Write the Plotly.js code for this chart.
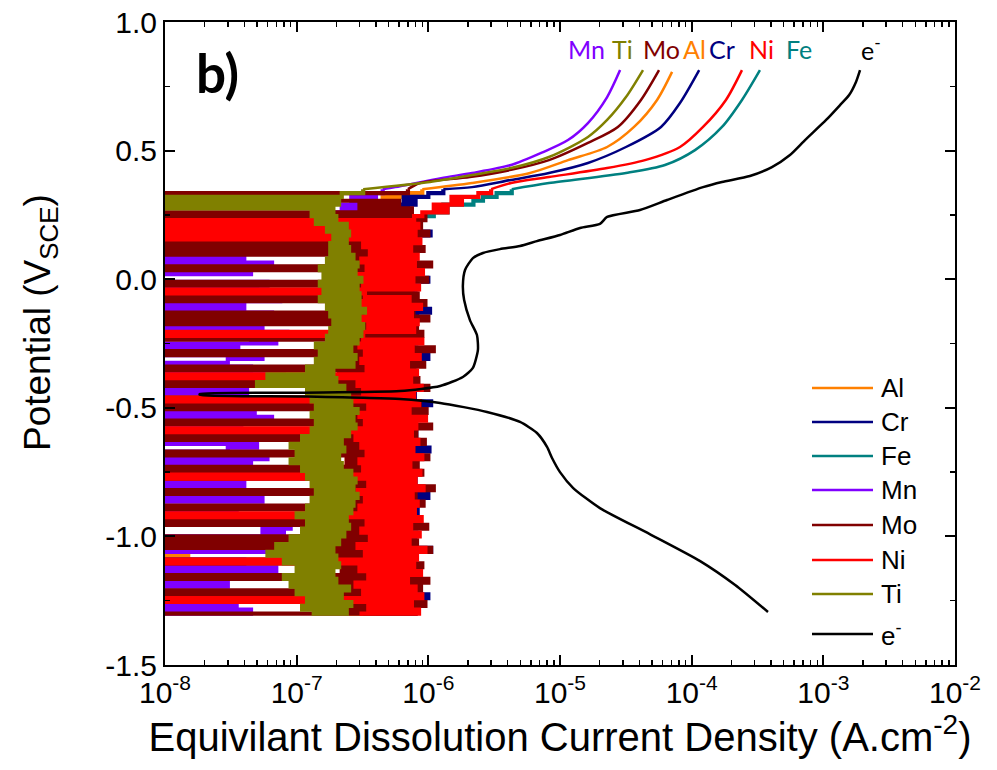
<!DOCTYPE html>
<html>
<head>
<meta charset="utf-8">
<script src="https://cdn.plot.ly/plotly-3.0.1.min.js"></script>
<style>html,body{margin:0;padding:0;background:#fff;}#chart{width:997px;height:770px;}</style>
</head>
<body>
<div id="chart"></div>
<script>
// Potential sampling (V vs SCE) of the noisy, low-current part of the scan
const potGrid = [
-1.300,-1.285,-1.270,-1.255,-1.240,-1.225,-1.210,-1.195,-1.180,-1.165,
-1.150,-1.135,-1.120,-1.105,-1.090,-1.075,-1.060,-1.045,-1.030,-1.015,
-1.000,-0.985,-0.970,-0.955,-0.940,-0.925,-0.910,-0.895,-0.880,-0.865,
-0.850,-0.835,-0.820,-0.805,-0.790,-0.775,-0.760,-0.745,-0.730,-0.715,
-0.700,-0.685,-0.670,-0.655,-0.640,-0.625,-0.610,-0.595,-0.580,-0.565,
-0.550,-0.535,-0.520,-0.505,-0.490,-0.475,-0.460,-0.445,-0.430,-0.415,
-0.400,-0.385,-0.370,-0.355,-0.340,-0.325,-0.310,-0.295,-0.280,-0.265,
-0.250,-0.235,-0.220,-0.205,-0.190,-0.175,-0.160,-0.145,-0.130,-0.115,
-0.100,-0.085,-0.070,-0.055,-0.040,-0.025,-0.010,0.005,0.020,0.035,
0.050,0.065,0.080,0.095,0.110,0.125,0.140,0.155,0.170,0.185,
0.200,0.215,0.230,0.245,0.260,0.275,0.290,0.305,0.320,0.335,
0.350];

// Equivalent dissolution current density (A/cm2) on potGrid
const alNoise = [
2.5e-7,5.0e-7,2.2e-7,5.5e-7,2.6e-7,4.8e-7,2.4e-7,5.2e-7,2.3e-7,4.6e-7,
2.7e-7,5.4e-7,2.5e-7,4.9e-7,2.2e-7,5e-9,1.5e-8,5.1e-7,2.4e-7,4.7e-7,
2.6e-7,5.3e-7,2.3e-7,4.8e-7,2.5e-7,5.6e-7,2.4e-7,5.0e-7,2.7e-7,4.6e-7,
2.3e-7,5.2e-7,6.0e-8,4.9e-7,2.5e-7,5.4e-7,2.6e-7,4.7e-7,2.2e-7,5.1e-7,
2.4e-7,4.8e-7,2.6e-7,5.5e-7,2.3e-7,5.0e-7,2.5e-7,4.6e-7,2.7e-7,5.3e-7,
2.2e-7,4.9e-7,2.4e-7,5.2e-7,2.6e-7,4.7e-7,2.3e-7,5.4e-7,2.5e-7,5.0e-7,
2.6e-7,4.8e-7,2.4e-7,5.1e-7,2.2e-7,5.5e-7,2.5e-7,4.9e-7,2.7e-7,5.2e-7,
2.3e-7,4.6e-7,2.6e-7,5.3e-7,2.4e-7,5.0e-7,2.2e-7,4.8e-7,2.5e-7,5.4e-7,
2.7e-7,4.9e-7,2.3e-7,5.1e-7,2.6e-7,4.7e-7,2.4e-7,5.5e-7,2.5e-7,5.0e-7,
2.2e-7,5.2e-7,2.6e-7,4.8e-7,2.4e-7,5.3e-7,2.7e-7,4.9e-7,2.3e-7,5.1e-7,
2.5e-7,4.7e-7,2.6e-7,5.4e-7,3.0e-7,5.5e-7,3.5e-7,6.0e-7,4.5e-7,7.0e-7,
9.0e-7];
const crNoise = [
4.0e-7,8.0e-7,4.5e-7,7.6e-7,4.2e-7,1.0e-6,4.6e-7,7.8e-7,4.1e-7,8.2e-7,
4.4e-7,7.5e-7,4.0e-7,8.0e-7,4.3e-7,7.7e-7,4.5e-7,1.05e-6,4.2e-7,7.9e-7,
4.1e-7,8.1e-7,4.6e-7,7.4e-7,4.0e-7,7.8e-7,4.4e-7,8.3e-7,4.2e-7,7.6e-7,
4.5e-7,1.0e-6,4.1e-7,7.9e-7,4.3e-7,8.0e-7,4.0e-7,7.5e-7,4.6e-7,8.2e-7,
4.2e-7,7.7e-7,4.4e-7,1.02e-6,4.1e-7,7.8e-7,4.5e-7,8.1e-7,4.0e-7,7.6e-7,
4.3e-7,8.0e-7,4.6e-7,7.5e-7,4.2e-7,1.05e-6,4.1e-7,7.9e-7,4.4e-7,8.2e-7,
4.0e-7,7.8e-7,4.5e-7,8.0e-7,4.3e-7,7.6e-7,4.2e-7,1.0e-6,4.6e-7,7.7e-7,
4.1e-7,8.1e-7,4.4e-7,7.5e-7,4.0e-7,7.9e-7,4.5e-7,8.2e-7,4.2e-7,1.03e-6,
4.3e-7,7.8e-7,4.1e-7,8.0e-7,4.6e-7,7.6e-7,4.0e-7,1.0e-6,4.4e-7,7.7e-7,
4.2e-7,8.2e-7,4.5e-7,7.9e-7,4.1e-7,7.5e-7,4.3e-7,8.1e-7,4.0e-7,1.04e-6,
4.4e-7,7.8e-7,4.6e-7,8.0e-7,5.0e-7,7.0e-7,5.5e-7,8.0e-7,6.5e-7,1.0e-6,
1.3e-6];
const feNoise = [
3.2e-7,6.2e-7,3.0e-7,6.6e-7,3.4e-7,6.0e-7,3.1e-7,6.4e-7,3.3e-7,6.1e-7,
3.0e-7,6.5e-7,3.2e-7,5.9e-7,3.5e-7,6.3e-7,3.1e-7,6.7e-7,3.3e-7,6.0e-7,
3.4e-7,6.2e-7,3.0e-7,6.4e-7,3.2e-7,6.1e-7,3.5e-7,6.6e-7,3.1e-7,5.9e-7,
3.3e-7,6.3e-7,3.1e-7,6.5e-7,3.4e-7,6.0e-7,3.0e-7,6.4e-7,3.2e-7,6.2e-7,
3.5e-7,6.1e-7,3.1e-7,6.6e-7,3.3e-7,5.9e-7,3.2e-7,6.3e-7,3.0e-7,6.5e-7,
3.4e-7,6.0e-7,3.2e-7,6.4e-7,3.1e-7,6.2e-7,3.5e-7,6.7e-7,3.3e-7,6.1e-7,
3.0e-7,6.3e-7,3.4e-7,5.9e-7,3.2e-7,6.5e-7,3.1e-7,6.0e-7,3.3e-7,6.4e-7,
3.5e-7,6.2e-7,3.0e-7,6.6e-7,3.2e-7,6.1e-7,3.4e-7,6.3e-7,3.1e-7,5.9e-7,
3.3e-7,6.5e-7,3.1e-7,6.0e-7,3.5e-7,6.4e-7,3.2e-7,6.2e-7,3.0e-7,6.6e-7,
3.4e-7,6.1e-7,3.2e-7,6.3e-7,3.1e-7,5.9e-7,3.3e-7,6.5e-7,3.5e-7,6.0e-7,
3.2e-7,6.4e-7,3.4e-7,7.0e-7,1.1e-6,1.4e-6,1.3e-6,2.2e-6,2.6e-6,3.3e-6,
4.3e-6];
const mnNoise = [
5e-9,4.5e-8,5e-9,3.5e-8,5e-9,6.0e-8,5e-9,5e-9,3.0e-8,5e-9,
5.0e-8,5e-9,7.0e-8,5e-9,4.0e-8,5e-9,5e-9,6.5e-8,5e-9,4.5e-8,
5e-9,8.0e-8,5.5e-8,9.0e-8,5.0e-8,8.5e-8,5e-9,3.5e-8,5e-9,5e-9,
5.5e-8,5e-9,6.5e-8,5e-9,4.0e-8,5e-9,5e-9,7.5e-8,5e-9,4.5e-8,
5e-9,6.0e-8,5e-9,3.0e-8,5.0e-8,5e-9,8.0e-8,5e-9,3.8e-8,5e-9,
5e-9,6.5e-8,5e-9,4.8e-8,5e-9,7.0e-8,5e-9,5e-9,4.2e-8,5e-9,
6.0e-8,5e-9,8.0e-8,5e-9,4.5e-8,5e-9,3.0e-8,5.5e-8,5e-9,3.6e-8,
5e-9,7.0e-8,4.5e-8,8.5e-8,5e-9,5.5e-8,5e-9,5e-9,6.5e-8,5e-9,
4.0e-8,5e-9,7.5e-8,5e-9,5.0e-8,5e-9,6.0e-8,5e-9,5e-9,4.5e-8,
5e-9,6.5e-8,5e-9,4.0e-8,5e-9,5.5e-8,5e-9,6.0e-8,5e-9,4.2e-8,
5e-9,2.0e-7,1.5e-7,2.5e-7,1.8e-7,3.0e-7,2.2e-7,3.5e-7,2.6e-7,4.0e-7,
4.5e-7];
const moNoise = [
5e-9,8.0e-7,2.0e-7,9.5e-7,5e-9,7.0e-7,5e-9,8.8e-7,1.8e-7,1.0e-6,
5e-9,7.5e-7,2.2e-7,9.0e-7,5e-9,6.5e-7,1.5e-7,1.05e-6,5e-9,8.2e-7,
5e-9,7.2e-7,2.0e-7,9.8e-7,5e-9,8.5e-7,2.3e-7,7.8e-7,5e-9,9.2e-7,
1.7e-7,8.0e-7,5e-9,1.1e-6,2.1e-7,7.4e-7,5e-9,9.0e-7,5e-9,8.3e-7,
2.4e-7,1.0e-6,5e-9,7.6e-7,1.9e-7,9.4e-7,5e-9,8.1e-7,2.2e-7,1.05e-6,
5e-9,7.0e-7,2.0e-7,9.7e-7,5e-9,8.6e-7,5e-9,7.3e-7,1.6e-7,1.0e-6,
5e-9,8.4e-7,2.1e-7,7.8e-7,5e-9,9.3e-7,2.3e-7,8.0e-7,5e-9,1.1e-6,
1.8e-7,7.5e-7,5e-9,9.0e-7,2.0e-7,8.2e-7,5e-9,1.0e-6,5e-9,7.7e-7,
2.2e-7,9.5e-7,5e-9,8.3e-7,1.9e-7,7.4e-7,5e-9,9.8e-7,2.1e-7,8.6e-7,
5e-9,1.05e-6,2.0e-7,7.9e-7,5e-9,9.2e-7,5e-9,8.4e-7,2.4e-7,1.0e-6,
5e-9,8.8e-7,2.5e-7,9.5e-7,5e-9,7.5e-7,3.0e-7,6.0e-7,5e-9,5e-9,
7.0e-7];
const niNoise = [
3.0e-7,8.5e-7,3.5e-7,7.5e-7,5e-9,9.0e-7,3.2e-7,8.0e-7,2.8e-7,7.0e-7,
3.5e-7,8.8e-7,3.0e-7,7.8e-7,5e-9,8.2e-7,3.3e-7,9.5e-7,2.9e-7,7.2e-7,
3.6e-7,8.6e-7,3.1e-7,7.4e-7,3.4e-7,8.9e-7,5e-9,7.9e-7,3.0e-7,8.3e-7,
3.3e-7,7.6e-7,2.9e-7,9.2e-7,3.5e-7,8.0e-7,5e-9,8.7e-7,3.2e-7,7.3e-7,
3.0e-7,9.0e-7,3.4e-7,7.7e-7,3.1e-7,8.4e-7,2.8e-7,7.5e-7,5e-9,8.1e-7,
3.3e-7,9.6e-7,3.0e-7,7.2e-7,3.5e-7,8.5e-7,5e-9,7.8e-7,3.2e-7,8.9e-7,
2.9e-7,7.4e-7,5e-9,8.2e-7,3.4e-7,7.0e-7,3.1e-7,8.6e-7,3.3e-7,7.6e-7,
3.0e-7,9.0e-7,3.2e-7,5e-9,7.8e-7,3.5e-7,8.3e-7,3.1e-7,7.5e-7,3.4e-7,
8.8e-7,3.0e-7,7.2e-7,3.3e-7,5e-9,8.5e-7,3.2e-7,7.7e-7,2.9e-7,9.1e-7,
3.4e-7,7.9e-7,3.1e-7,8.3e-7,3.6e-7,7.4e-7,3.2e-7,8.7e-7,5e-9,8.0e-7,
5e-9,8.4e-7,5e-9,7.8e-7,9.0e-7,1.4e-6,1.1e-6,1.8e-6,1.5e-6,2.4e-6,
3.0e-6];
const tiNoise = [
1.3e-7,2.4e-7,1.1e-7,2.6e-7,1.2e-7,2.2e-7,1.0e-7,2.5e-7,9e-8,2.0e-7,
8e-8,1.9e-7,1.0e-7,2.1e-7,8e-8,2.0e-7,6e-8,1.9e-7,7e-8,2.1e-7,
9e-8,2.3e-7,1.1e-7,2.5e-7,1.2e-7,2.4e-7,1.0e-7,2.6e-7,1.2e-7,2.7e-7,
1.3e-7,2.9e-7,1.4e-7,2.7e-7,1.3e-7,2.8e-7,1.2e-7,2.6e-7,1.1e-7,2.2e-7,
9e-8,2.1e-7,1.0e-7,2.3e-7,9e-8,2.2e-7,1.1e-7,2.5e-7,1.3e-7,2.8e-7,
1.4e-7,2.7e-7,1.3e-7,2.9e-7,1.4e-7,2.6e-7,1.3e-7,2.5e-7,1.2e-7,2.3e-7,
5e-8,2.0e-7,6e-8,1.9e-7,1.2e-7,2.7e-7,1.4e-7,2.8e-7,1.5e-7,2.6e-7,
1.4e-7,2.9e-7,1.7e-7,3.1e-7,1.8e-7,3.2e-7,1.9e-7,3.0e-7,1.8e-7,3.3e-7,
1.7e-7,3.0e-7,1.5e-7,3.0e-7,1.6e-7,2.9e-7,1.5e-7,3.1e-7,1.6e-7,2.8e-7,
1.5e-7,2.9e-7,1.7e-7,2.7e-7,1.8e-7,2.5e-7,1.8e-7,2.4e-7,1.9e-7,2.5e-7,
1.7e-7,2.4e-7,1.4e-7,2.0e-7,1.3e-7,1.9e-7,5e-9,2.1e-7,5e-9,2.2e-7,
3.2e-7];

// Smooth anodic branches above ~0.35 V (potential, current)
const alUpV = [0.374,0.413,0.463,0.514,0.592,0.697,0.806];
const alUpI = [2.15e-6,5.92e-6,1.15e-5,2.28e-5,3.65e-5,5.46e-5,7.1e-5];
const crUpV = [0.358,0.386,0.413,0.452,0.514,0.592,0.685,0.813];
const crUpI = [2.15e-6,4.25e-6,8.24e-6,1.63e-5,3.17e-5,5.85e-5,8.15e-5,1.14e-4];
const feUpV = [0.374,0.413,0.444,0.502,0.592,0.697,0.813];
const feUpI = [8.24e-6,3.17e-5,6.27e-5,1.06e-4,1.7e-4,2.41e-4,3.3e-4];
const mnUpV = [0.358,0.393,0.413,0.444,0.491,0.541,0.607,0.708,0.813];
const mnUpI = [5.6e-7,1.25e-6,2.15e-6,4.25e-6,7.2e-6,1.15e-5,1.63e-5,2.28e-5,2.86e-5];
const moUpV = [0.374,0.397,0.425,0.463,0.530,0.592,0.697,0.813];
const moUpI = [8.65e-7,2.07e-6,4.25e-6,8.24e-6,1.63e-5,2.75e-5,4.12e-5,5.65e-5];
const niUpV = [0.374,0.397,0.432,0.463,0.514,0.592,0.697,0.813];
const niUpI = [4.25e-6,8.24e-6,2.28e-5,4.42e-5,8.15e-5,1.22e-4,1.82e-4,2.41e-4];
const tiUpV = [0.378,0.405,0.432,0.475,0.553,0.619,0.708,0.813];
const tiUpI = [1.03e-6,2.15e-6,4.25e-6,8.24e-6,1.63e-5,2.28e-5,3.17e-5,4.27e-5];

// Electrochemical (electron) current: full polarisation curve
const eV = [-1.294,-1.189,-1.096,-0.991,-0.890,-0.812,-0.750,-0.695,-0.652,-0.598,
-0.555,-0.516,-0.481,-0.466,-0.456,-0.450,-0.446,-0.441,-0.435,-0.415,
-0.380,-0.345,-0.275,-0.217,-0.159,-0.081,-0.023,0.036,0.082,0.102,
0.117,0.129,0.148,0.172,0.199,0.215,0.242,0.269,0.308,0.358,
0.378,0.401,0.436,0.483,0.541,0.619,0.677,0.716,0.767,0.813];
const eI = [3.8e-4,2.14e-4,1.16e-4,4.8e-5,2.01e-5,1.26e-5,1.0e-5,8.7e-6,7.97e-6,6.68e-6,
4.97e-6,2.79e-6,1.23e-6,6.1e-7,1.06e-7,1.84e-8,1.84e-8,1.06e-7,6.1e-7,1.23e-6,
1.83e-6,2.18e-6,2.38e-6,2.34e-6,2.07e-6,1.87e-6,1.83e-6,1.9e-6,2.18e-6,2.6e-6,
3.5e-6,4.97e-6,6.68e-6,1.0e-5,1.42e-5,2.01e-5,2.28e-5,4.05e-5,6.5e-5,1.22e-4,
1.7e-4,2.77e-4,4.07e-4,5.58e-4,7.26e-4,1.05e-3,1.34e-3,1.57e-3,1.77e-3,1.9e-3];

const seriesNames = ['Al','Cr','Fe','Mn','Mo','Ni','Ti','e<sup>-</sup>'];
const seriesColors = ['#ff8000','#000080','#008080','#8000ff','#800000','#ff0000','#808000','#000000'];
const topLabelOrder = ['Mn','Ti','Mo','Al','Cr','Ni','Fe','e<sup>-</sup>'];
const xTickVals = [1e-8,1e-7,1e-6,1e-5,1e-4,1e-3,1e-2];
const xTickText = ['10<sup>-8</sup>','10<sup>-7</sup>','10<sup>-6</sup>','10<sup>-5</sup>','10<sup>-4</sup>','10<sup>-3</sup>','10<sup>-2</sup>'];
const yTickVals = [-1.5,-1.0,-0.5,0.0,0.5,1.0];
const yTickText = ['-1.5','-1.0','-0.5','0.0','0.5','1.0'];

const elementData = [
  [alNoise, alUpV, alUpI],
  [crNoise, crUpV, crUpI],
  [feNoise, feUpV, feUpI],
  [mnNoise, mnUpV, mnUpI],
  [moNoise, moUpV, moUpI],
  [niNoise, niUpV, niUpI],
  [tiNoise, tiUpV, tiUpI]
];

const traces = [];
const last = potGrid.length - 1;
// noisy low-current parts: the record steps between readings, drawn as horizontal steps
elementData.forEach(function(d, k){
  if (d[0].length !== potGrid.length) console.error('length mismatch', seriesNames[k], d[0].length);
  traces.push({
    type:'scatter', mode:'lines', name: seriesNames[k],
    x: d[0], y: potGrid,
    line:{color: seriesColors[k], width:4.2, shape:'hv'}, showlegend:false, hoverinfo:'skip'
  });
});
// anodic branches, continuing from the last noisy point
elementData.forEach(function(d, k){
  traces.push({
    type:'scatter', mode:'lines', name: seriesNames[k],
    x: [d[0][last]].concat(d[2]), y: [potGrid[last]].concat(d[1]),
    line:{color: seriesColors[k], width:2.5, shape:'spline', smoothing:0.8}, showlegend:false, hoverinfo:'skip'
  });
});
traces.push({
  type:'scatter', mode:'lines', name: seriesNames[7], x: eI, y: eV,
  line:{color:'#000000', width:2.5, shape:'spline', smoothing:0.6}, showlegend:false, hoverinfo:'skip'
});

// plot area in pixels: x 165..955, y 22..665
const L=165, R=955, T=22, B=665;
const px = function(x){ return (x-L)/(R-L); };
const py = function(y){ return 1-(y-T)/(B-T); };

const annotations = [];
const shapes = [];
annotations.push({xref:'paper', yref:'paper', x:px(217), y:py(73), xanchor:'center', yanchor:'middle',
  text:'<b>b)</b>', showarrow:false,
  font:{family:'Lato, Liberation Sans, sans-serif', size:53, color:'#000'}});
const topX = [586,622,661,694,722,761,799,871];
topLabelOrder.forEach(function(n, k){
  const c = seriesColors[seriesNames.indexOf(n)];
  annotations.push({xref:'paper', yref:'paper', x:px(topX[k]), y:py(49), xanchor:'center', yanchor:'middle',
    text:n, showarrow:false,
    font:{family:'Lato, Liberation Sans, sans-serif', size:25, color:c}});
});
// y axis title (placed as in the original figure)
annotations.push({xref:'paper', yref:'paper', x:px(40), y:py(322), xanchor:'center', yanchor:'middle',
  text:'Potential (V<sub>SCE</sub>)', textangle:-90, showarrow:false,
  font:{family:'Liberation Sans, Arial, sans-serif', size:37, color:'#000'}});
// legend
const legY = [388,422,456,490,525,560,594,634];
seriesNames.forEach(function(n, k){
  shapes.push({type:'line', xref:'paper', yref:'paper', x0:px(812), x1:px(873), y0:py(legY[k]), y1:py(legY[k]),
    line:{color:seriesColors[k], width:2.5}});
  annotations.push({xref:'paper', yref:'paper', x:px(879), y:py(legY[k]), xanchor:'left', yanchor:'middle',
    text:n, showarrow:false, font:{family:'Liberation Sans, Arial, sans-serif', size:26, color:'#000'}});
});

const minorX = [];
for (let d=-8; d<-2; d++) for (let m=2; m<10; m++) minorX.push(m*Math.pow(10,d));

const axisCommon = {
  ticks:'inside', ticklen:10, tickwidth:2, tickcolor:'#000', mirror:'allticks',
  showline:true, linewidth:2, linecolor:'#000', showgrid:false, zeroline:false,
  tickfont:{family:'Liberation Sans, Arial, sans-serif', size:30, color:'#000'}
};

const layout = {
  width:997, height:770,
  margin:{l:L, r:997-R, t:T, b:770-B},
  paper_bgcolor:'#fff', plot_bgcolor:'#fff',
  font:{family:'Liberation Sans, Arial, sans-serif', color:'#000'},
  showlegend:false,
  xaxis: Object.assign({}, axisCommon, {
    type:'log', range:[-8,-2], tickmode:'array', tickvals:xTickVals, ticktext:xTickText,
    minor:{tickmode:'array', tickvals:minorX, ticks:'inside', ticklen:5, tickwidth:1.5, tickcolor:'#000', showgrid:false},
    title:{text:'Equivilant Dissolution Current Density (A.cm<sup>-2</sup>)', font:{size:40, color:'#000'}, standoff:4}
  }),
  yaxis: Object.assign({}, axisCommon, {
    range:[-1.5,1.0], tickmode:'array', tickvals:yTickVals, ticktext:yTickText,
    minor:{dtick:0.25, tick0:0, ticks:'inside', ticklen:5, tickwidth:1.5, tickcolor:'#000', showgrid:false}
  }),
  annotations: annotations,
  shapes: shapes
};

Plotly.newPlot('chart', traces, layout, {staticPlot:true, displayModeBar:false});
</script>
</body>
</html>
